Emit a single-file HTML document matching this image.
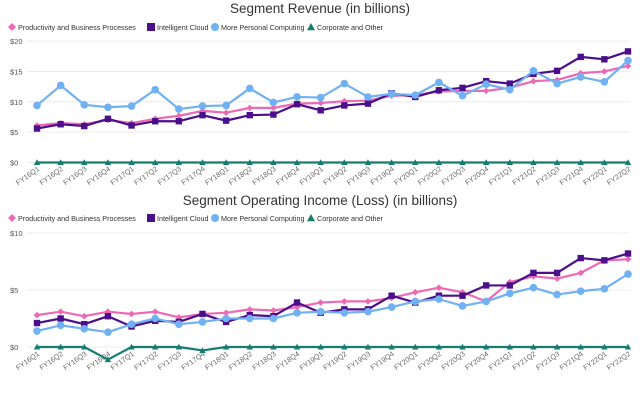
<!DOCTYPE html>
<html><head><meta charset="utf-8"><style>
html,body{margin:0;padding:0;background:#fff;}
svg{display:block;font-family:"Liberation Sans",sans-serif;}
</style></head><body>
<svg id="c" width="640" height="401" viewBox="0 0 640 401"></svg>
<script>
const categories=["FY16Q1","FY16Q2","FY16Q3","FY16Q4","FY17Q1","FY17Q2","FY17Q3","FY17Q4","FY18Q1","FY18Q2","FY18Q3","FY18Q4","FY19Q1","FY19Q2","FY19Q3","FY19Q4","FY20Q1","FY20Q2","FY20Q3","FY20Q4","FY21Q1","FY21Q2","FY21Q3","FY21Q4","FY22Q1","FY22Q2"];
const revPBP=[6.1,6.5,6.3,7.0,6.5,7.2,7.7,8.5,8.2,9.0,9.0,9.7,9.8,10.1,10.2,11.0,11.1,11.7,11.8,11.8,12.3,13.4,13.6,14.7,15.0,15.9];
const revIC=[5.6,6.3,6.0,7.2,6.1,6.8,6.8,7.8,6.9,7.8,7.9,9.6,8.6,9.4,9.7,11.4,10.8,11.9,12.3,13.4,13.0,14.6,15.1,17.4,17.0,18.3];
const revMPC=[9.4,12.7,9.5,9.1,9.3,12.0,8.8,9.3,9.4,12.2,9.9,10.8,10.7,13.0,10.8,11.3,11.1,13.2,11.0,12.9,12.0,15.1,13.0,14.1,13.3,16.8];
const revCorp=[0,0,0,0,0,0,0,0,0,0,0,0,0,0,0,0,0,0,0,0,0,0,0,0,0,0];
const opPBP=[2.8,3.1,2.7,3.1,2.9,3.1,2.6,2.9,3.0,3.3,3.2,3.5,3.9,4.0,4.0,4.3,4.8,5.2,4.8,4.0,5.7,6.2,6.0,6.5,7.6,7.7];
const opIC=[2.1,2.5,2.0,2.7,1.8,2.3,2.2,2.9,2.2,2.8,2.7,3.9,3.0,3.3,3.3,4.5,3.9,4.5,4.5,5.4,5.4,6.5,6.5,7.8,7.6,8.2];
const opMPC=[1.4,1.9,1.6,1.3,2.0,2.5,2.0,2.2,2.5,2.5,2.5,3.0,3.1,3.0,3.1,3.5,4.0,4.2,3.6,4.0,4.7,5.2,4.6,4.9,5.1,6.4];
const opCorp=[0,0,0,-1.1,0,0,0,-0.3,0,0,0,0,0,0,0,0,0,0,0,0,0,0,0,0,0,0];
const revTicks=[0,5,10,15,20];
const opTicks=[0,5,10];
const seriesNames=["Productivity and Business Processes","Intelligent Cloud","More Personal Computing","Corporate and Other"];
const colors=["#ee69b5","#4b0f8c","#6fb1f3","#167c70"];
const NS="http://www.w3.org/2000/svg";
const svg=document.getElementById('c');
function mk(t,a,p){const e=document.createElementNS(NS,t);for(const k in a)e.setAttribute(k,a[k]);(p||svg).appendChild(e);return e;}
const xPos=i=>37+i*(591/(categories.length-1));
function panel(title,ty,ly,y0,pxPer,ticks,data,lblY,name){
  const g=mk('g',{});
  
  
  const yPos=v=>y0-v*pxPer;
  const t=mk('text',{x:320,y:ty,'text-anchor':'middle','font-size':13.5,fill:'#333'},g);t.textContent=title;
  
  
  const lg=mk('g',{},g);
  
  
  let lx=9;const widths=[127,52,84,70];
  seriesNames.forEach((n,k)=>{
    const le=mk('g',{},lg);
    
    
    marker(le,k,lx+3,ly-3,1);
    const tx=mk('text',{x:lx+9,y:ly,'font-size':7.2,fill:'#333'},le);tx.textContent=n;
    lx+=widths[k]+12;
  });
  ticks.forEach(v=>{
    const y=yPos(v);
    const gl=mk('line',{x1:27,x2:630,y1:y,y2:y,stroke:'#ececec','stroke-width':1},g);
    
    
    const tl=mk('text',{x:10,y:y+3,'font-size':7.5,fill:'#555'},g);tl.textContent='$'+v;
    
    
  });
  categories.forEach((c,i)=>{
    const x=xPos(i)+3;
    const tl=mk('text',{x:x,y:lblY,'font-size':7.2,fill:'#666','text-anchor':'end',transform:`rotate(-35 ${x} ${lblY})`},g);tl.textContent=c;
    
    
  });
  data.forEach((arr,k)=>{
    const sg=mk('g',{},g);
    
    
    const pts=arr.map((v,i)=>xPos(i)+','+yPos(v)).join(' ');
    const pl=mk('polyline',{points:pts,fill:'none',stroke:colors[k],'stroke-width':2.2,'stroke-linejoin':'round'},sg);
    
    
    arr.forEach((v,i)=>marker(sg,k,xPos(i),yPos(v),0));
  });
}
function marker(p,k,x,y,leg){
  let e;
  const c=colors[k];
  if(k===0){const s=leg?4:3.3;e=mk('path',{d:`M${x} ${y-s}L${x+s} ${y}L${x} ${y+s}L${x-s} ${y}Z`,fill:c},p);}
  else if(k===1){const s=leg?4:3.2;e=mk('rect',{x:x-s,y:y-s,width:2*s,height:2*s,fill:c},p);}
  else if(k===2){e=mk('circle',{cx:x,cy:y,r:leg?4:3.8,fill:c},p);}
  else {const s=leg?4:3.2;e=mk('path',{d:`M${x} ${y-s}L${x+s} ${y+s*0.8}L${x-s} ${y+s*0.8}Z`,fill:c},p);}
  
  
}
panel('Segment Revenue (in billions)',13,30,162.5,6.07,revTicks,[revPBP,revIC,revMPC,revCorp],170,'revenue-chart');
panel('Segment Operating Income (Loss) (in billions)',205,221,347,11.4,opTicks,[opPBP,opIC,opMPC,opCorp],355,'operating-income-chart');
</script>
</body></html>
